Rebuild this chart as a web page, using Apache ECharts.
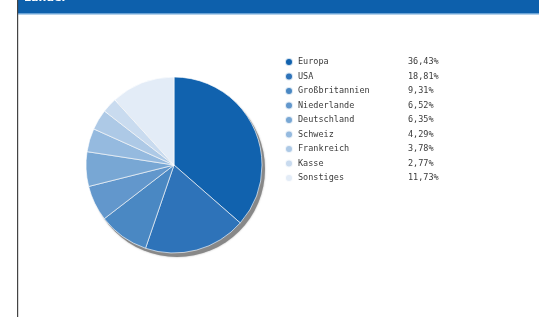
<!DOCTYPE html>
<html>
<head>
<meta charset="utf-8">
<title>Länder</title>
<script src="https://cdn.jsdelivr.net/npm/echarts@6/dist/echarts.min.js"></script>
<style>
  html, body { margin: 0; padding: 0; background: #fff; }
</style>
</head>
<body>
<div id="main" style="width:539px;height:317px"></div>
<script type="text/javascript">
var chartTitle = 'Länder';
var laender = ['Europa', 'USA', 'Großbritannien', 'Niederlande', 'Deutschland', 'Schweiz', 'Frankreich', 'Kasse', 'Sonstiges'];
var anteile = [36.43, 18.81, 9.31, 6.52, 6.35, 4.29, 3.78, 2.77, 11.73];
var farben = ['#1162ae', '#2e73b9', '#4a88c3', '#6297cc', '#78a7d4', '#95badf', '#adc9e6', '#c9dbef', '#e3ecf7'];

var myChart = echarts.init(document.getElementById('main'));

var pieData = laender.map(function(n, i) {
  return { name: n, value: anteile[i], itemStyle: { color: farben[i] } };
});

function fmt(v) {
  return v.toFixed(2).replace('.', ',') + '%';
}

var option = {
  backgroundColor: '#fff',
  animation: false,
  graphic: [
    { type: 'rect', shape: { x: 18, y: 0, width: 521, height: 14 }, style: { fill: '#0d60ac' }, z: 10 },
    { type: 'rect', shape: { x: 18, y: 13, width: 521, height: 1.5 }, style: { fill: '#6aa3d6' }, z: 10 },
    { type: 'rect', shape: { x: 17, y: 0, width: 1.2, height: 317 }, style: { fill: '#444' }, z: 10 },
    { type: 'text', x: 24, y: -7, style: { text: chartTitle, fill: '#fff', font: 'bold 11px "DejaVu Sans"' }, z: 11 }
  ],
  legend: {
    orient: 'vertical',
    left: 279,
    top: 52,
    icon: 'circle',
    itemWidth: 8,
    itemHeight: 8,
    itemGap: 4.5,
    data: laender,
    formatter: function(name) {
      var i = laender.indexOf(name);
      return '{n|' + name + '}{p|' + fmt(anteile[i]) + '}';
    },
    textStyle: {
      fontFamily: 'DejaVu Sans Mono',
      fontSize: 8.5,
      color: '#3a3a3a',
      rich: {
        n: { width: 110, fontFamily: 'DejaVu Sans Mono', fontSize: 8.5, color: '#3a3a3a' },
        p: { fontFamily: 'DejaVu Sans Mono', fontSize: 8.5, color: '#3a3a3a' }
      }
    }
  },
  series: [
    {
      name: 'schatten',
      type: 'pie',
      silent: true,
      center: [177, 169],
      radius: 88,
      z: 1,
      label: { show: false },
      labelLine: { show: false },
      itemStyle: { color: '#888', shadowColor: 'rgba(0,0,0,0.3)', shadowBlur: 2 },
      data: [{ name: '', value: 1 }]
    },
    {
      name: chartTitle,
      type: 'pie',
      center: [174, 165],
      radius: 88,
      startAngle: 90,
      clockwise: true,
      z: 2,
      label: { show: false },
      labelLine: { show: false },
      itemStyle: { borderColor: 'rgba(255,255,255,0.8)', borderWidth: 0.8 },
      data: pieData
    }
  ]
};

myChart.setOption(option);
</script>
</body>
</html>
